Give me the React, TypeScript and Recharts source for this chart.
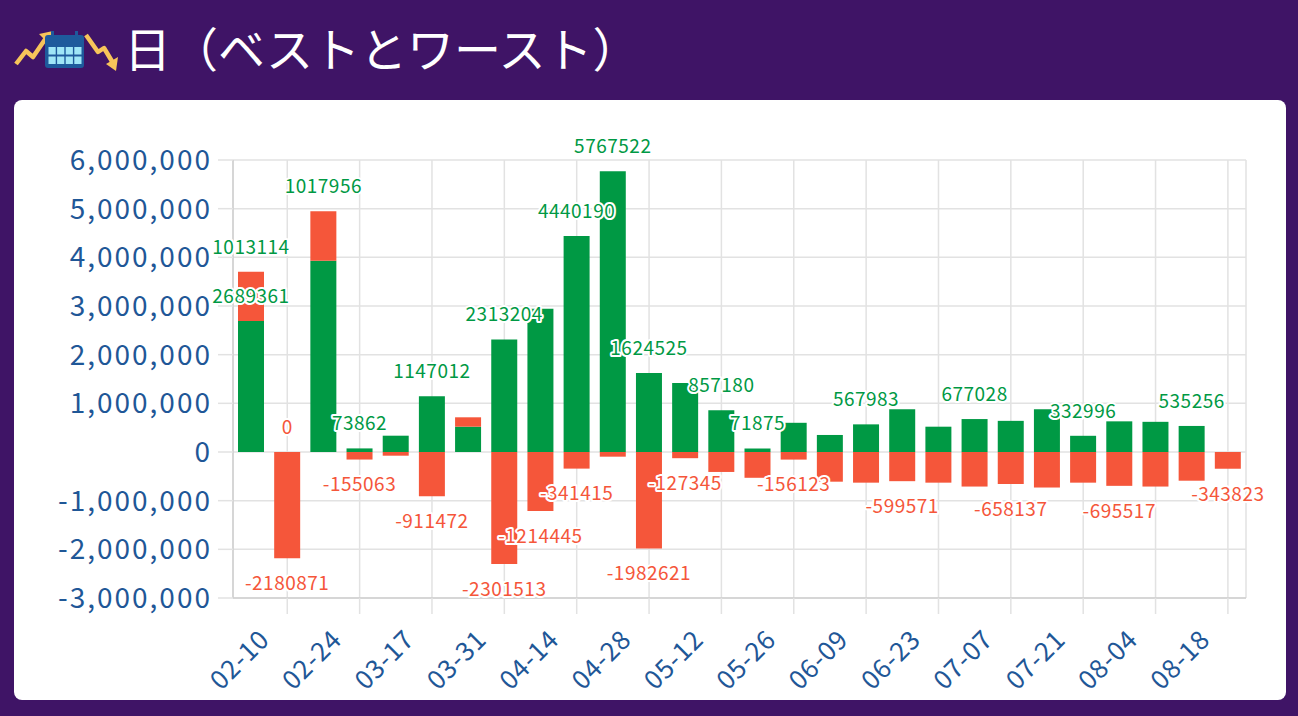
import React from "react";
import {
  BarChart,
  Bar,
  XAxis,
  YAxis,
  CartesianGrid,
  LabelList,
} from "recharts";

// week start dates (one bar per week)
const weeks = [
  "02-03", "02-10", "02-17", "02-24", "03-10", "03-17", "03-24",
  "03-31", "04-07", "04-14", "04-21", "04-28", "05-05", "05-12",
  "05-19", "05-26", "06-02", "06-09", "06-16", "06-23", "06-30",
  "07-07", "07-14", "07-21", "07-28", "08-04", "08-11", "08-18",
];

// best day of the week
const best = [
  2689361, 0, 3930000, 73862, 335000, 1147012, 520000,
  2313204, 2945000, 4440190, 5767522, 1624525, 1420000, 857180,
  71875, 600000, 350000, 567983, 880000, 520000, 677028,
  640000, 880000, 332996, 630000, 620000, 535256, 0,
];

// worst day of the week
const worst = [
  1013114, -2180871, 1017956, -155063, -76000, -911472, 193000,
  -2301513, -1214445, -341415, -96000, -1982621, -127345, -410000,
  -530000, -156123, -610000, -630000, -599571, -630000, -710000,
  -658137, -730000, -630000, -695517, -710000, -590000, -343823,
];

// labels that survive the overlap check in the original
const bestLabelIdx = [0, 1, 3, 5, 7, 9, 10, 11, 13, 14, 17, 20, 23, 26];
const worstLabelIdx = [0, 1, 2, 3, 5, 7, 8, 9, 11, 12, 15, 18, 21, 24, 27];

const xTicks = weeks.filter((_, i) => i % 2 === 1);
const yTicks = [-3000000, -2000000, -1000000, 0, 1000000, 2000000, 3000000, 4000000, 5000000, 6000000];

const data = weeks.map((w, i) => ({ date: w, best: best[i], worst: worst[i] }));

const FONT = '"Noto Sans CJK JP", "Noto Sans", sans-serif';
const GREEN = "#009944";
const RED = "#f5563a";
const BLUE = "#1f5797";
const PURPLE = "#3f1466";

const ValueText = ({ x, y, value }: { x: number; y: number; value: number }) => (
  <text
    x={x}
    y={y}
    dy="0.36em"
    textAnchor="middle"
    fontFamily={FONT}
    fontSize={19}
    letterSpacing={0.5}
    fill={value > 0 ? GREEN : RED}
    stroke="#fff"
    strokeWidth={4}
    strokeLinejoin="round"
    paintOrder="stroke"
  >
    {value}
  </text>
);

// zero-height bars get no label entry, so the worst series also draws a "0" best label
const makeLabel = (series: number[], shown: number[], isWorst: boolean) => (props: any) => {
  const { x, y, width, height, value } = props;
  if (!isWorst && value === 0) return null;
  const i = series.indexOf(value);
  const top = Math.min(y, y + height);
  const bottom = Math.max(y, y + height);
  const cx = x + width / 2;
  const zeroBest = isWorst && best[i] === 0 && bestLabelIdx.includes(i);
  return (
    <g>
      {shown.includes(i) && <ValueText x={cx} y={value >= 0 ? top - 25 : bottom + 25} value={value} />}
      {zeroBest && <ValueText x={cx} y={top - 25} value={0} />}
    </g>
  );
};

const XTick = (props: any) => {
  const { x, payload } = props;
  return (
    <g transform={`translate(${x},598) rotate(-45)`}>
      <text x={-42} y={19} textAnchor="end" fontFamily={FONT} fontSize={26} letterSpacing={0.8} fill={BLUE}>
        {payload.value}
      </text>
    </g>
  );
};

const Icon = () => (
  <svg width={110} height={50} style={{ position: "absolute", left: 10, top: 24 }}>
    <polyline points="6,40 16,27 23,33 36,14" fill="none" stroke="#f7c45a" strokeWidth={4.5} strokeLinejoin="round" />
    <polygon points="29,10 43,7 40,21" fill="#f7c45a" />
    <rect x={35} y={11} width={39} height={33} rx={3} fill="#1e5a9c" />
    <rect x={41} y={7} width={3} height={7} fill="#1e5a9c" />
    <rect x={65} y={7} width={3} height={7} fill="#1e5a9c" />
    {[0, 1, 2, 3].map((c) =>
      [0, 1].map((r) => (
        <rect key={`${c}-${r}`} x={38.5 + c * 8.6} y={23 + r * 9.5} width={7.2} height={7.5} fill="#9fe6f7" />
      ))
    )}
    <polyline points="76,11 88,28 94,24 103,39" fill="none" stroke="#f7c45a" strokeWidth={4.5} strokeLinejoin="round" />
    <polygon points="96,40 108,33 106,47" fill="#f7c45a" />
  </svg>
);

export default function App() {
  return (
    <div
      style={{
        position: "absolute",
        left: 0,
        top: 0,
        width: 1298,
        height: 716,
        background: PURPLE,
        overflow: "hidden",
      }}
    >
      <Icon />
      <svg width={700} height={90} style={{ position: "absolute", left: 0, top: 0 }}>
        <text x={124} y={67} fontFamily={FONT} fontSize={47} fill="#fff">
          日（ベストとワースト）
        </text>
      </svg>
      <div
        style={{
          position: "absolute",
          left: 14,
          top: 100,
          width: 1272,
          height: 600,
          background: "#fff",
          borderRadius: 8,
        }}
      />
      <div style={{ position: "absolute", left: 0, top: 0 }}>
        <BarChart
          width={1298}
          height={716}
          data={data}
          stackOffset="sign"
          margin={{ top: 160, right: 52, left: 0, bottom: 0 }}
        >
          <CartesianGrid stroke="#e2e2e2" strokeWidth={1.5} />
          <XAxis
            dataKey="date"
            ticks={xTicks}
            interval={0}
            height={118}
            tick={<XTick />}
            tickSize={16}
            tickLine={{ stroke: "#e2e2e2", strokeWidth: 1.5 }}
            axisLine={{ stroke: "#cfcfcf", strokeWidth: 1.5 }}
          />
          <YAxis
            width={233}
            domain={[-3000000, 6000000]}
            ticks={yTicks}
            interval={0}
            tickSize={15}
            tickMargin={6}
            tickFormatter={(v: number) => v.toLocaleString("en-US")}
            tick={{ fill: BLUE, fontSize: 28, fontFamily: FONT, letterSpacing: 2 }}
            tickLine={{ stroke: "#e2e2e2", strokeWidth: 1.5 }}
            axisLine={{ stroke: "#cfcfcf", strokeWidth: 1.5 }}
          />
          <Bar dataKey="best" stackId="a" fill={GREEN} barSize={26} isAnimationActive={false}>
            <LabelList dataKey="best" content={makeLabel(best, bestLabelIdx, false)} />
          </Bar>
          <Bar dataKey="worst" stackId="a" fill={RED} barSize={26} isAnimationActive={false}>
            <LabelList dataKey="worst" content={makeLabel(worst, worstLabelIdx, true)} />
          </Bar>
        </BarChart>
      </div>
    </div>
  );
}
